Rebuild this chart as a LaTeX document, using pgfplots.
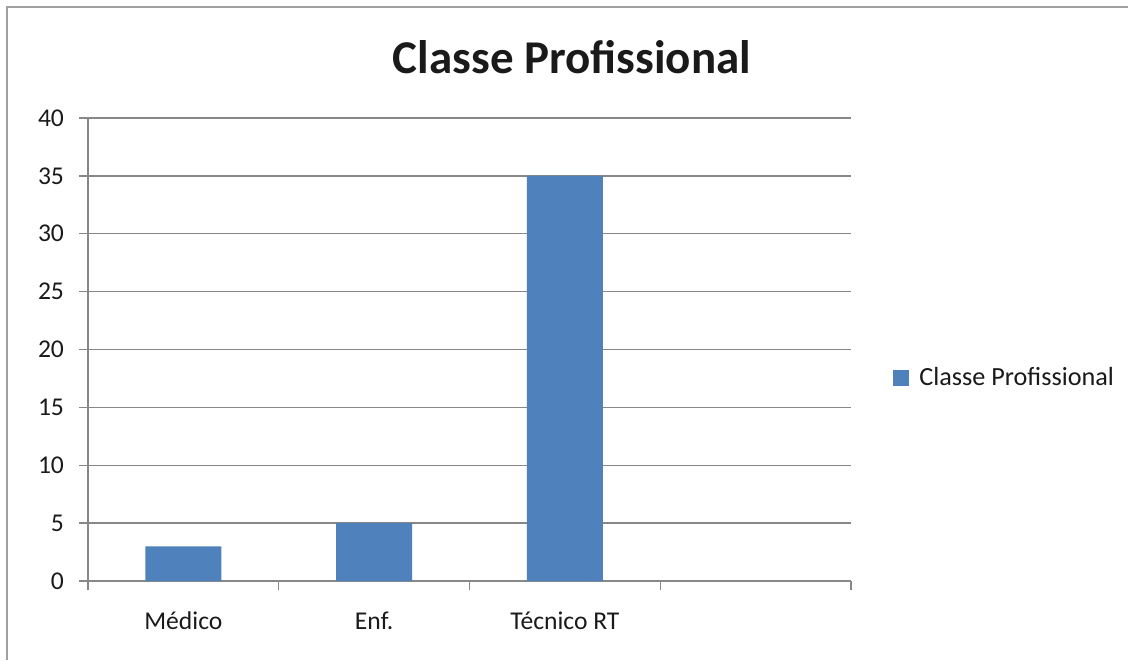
\documentclass[border=0pt]{standalone}
\usepackage{pgfplots}
\pgfplotsset{compat=1.18}
\usepackage{fontspec}
\setmainfont{Carlito}
\definecolor{barblue}{HTML}{4F81BD}
\definecolor{axgray}{HTML}{878787}
\definecolor{framegray}{HTML}{A0A0A0}
\definecolor{txt}{HTML}{1A1A1A}
\begin{document}
\begin{tikzpicture}[x=1bp,y=1bp]
\useasboundingbox (0,0) rectangle (564,330);
\draw[framegray, line width=1.2bp] (3.5,0) -- (3.5,326.5) -- (564,326.5);
\node[anchor=base, font=\fontsize{23.5bp}{28bp}\selectfont\bfseries, text=txt] at (286,293.5) {Classe Profissional};
\begin{axis}[
  at={(44bp,39.5bp)}, anchor=south west,
  scale only axis, width=381.5bp, height=231.5bp,
  xmin=-0.5, xmax=3.5, ymin=0, ymax=40,
  axis x line=bottom, axis y line=left,
  axis line style={axgray, line width=0.7bp, -},
  ytick={0,5,...,40},
  ymajorgrids, grid style={axgray, line width=0.7bp},
  xtick={-0.5,0.5,1.5,2.5,3.5}, xticklabels={},
  extra x ticks={0,1,2},
  extra x tick labels={Médico,Enf.,Técnico RT},
  extra x tick style={major tick length=0pt, grid=none},
  tick style={axgray, line width=0.7bp},
  major tick length=4.5bp,
  xtick style={draw=axgray}, 
  tick align=outside,
  x tick label style={font=\fontsize{12.8bp}{15bp}\selectfont, text=txt, yshift=-12bp},
  y tick label style={font=\fontsize{12.8bp}{15bp}\selectfont, text=txt, xshift=-4bp},
  /pgf/number format/assume math mode=true,
  legend style={at={(1.055,0.438)}, anchor=west, draw=none, fill=none,
    font=\fontsize{13.1bp}{15bp}\selectfont, text=txt, inner sep=0pt,
    /tikz/every odd column/.append style={column sep=3bp}},
  legend cell align=left,
  legend image code/.code={\fill[barblue] (0bp,-4bp) rectangle (8bp,4bp);},
]
\addplot[ybar, bar width=0.398, fill=barblue, draw=none] coordinates {(0,3) (1,5) (2,35)};
\addlegendentry{Classe Profissional}
\end{axis}
\end{tikzpicture}
\end{document}
